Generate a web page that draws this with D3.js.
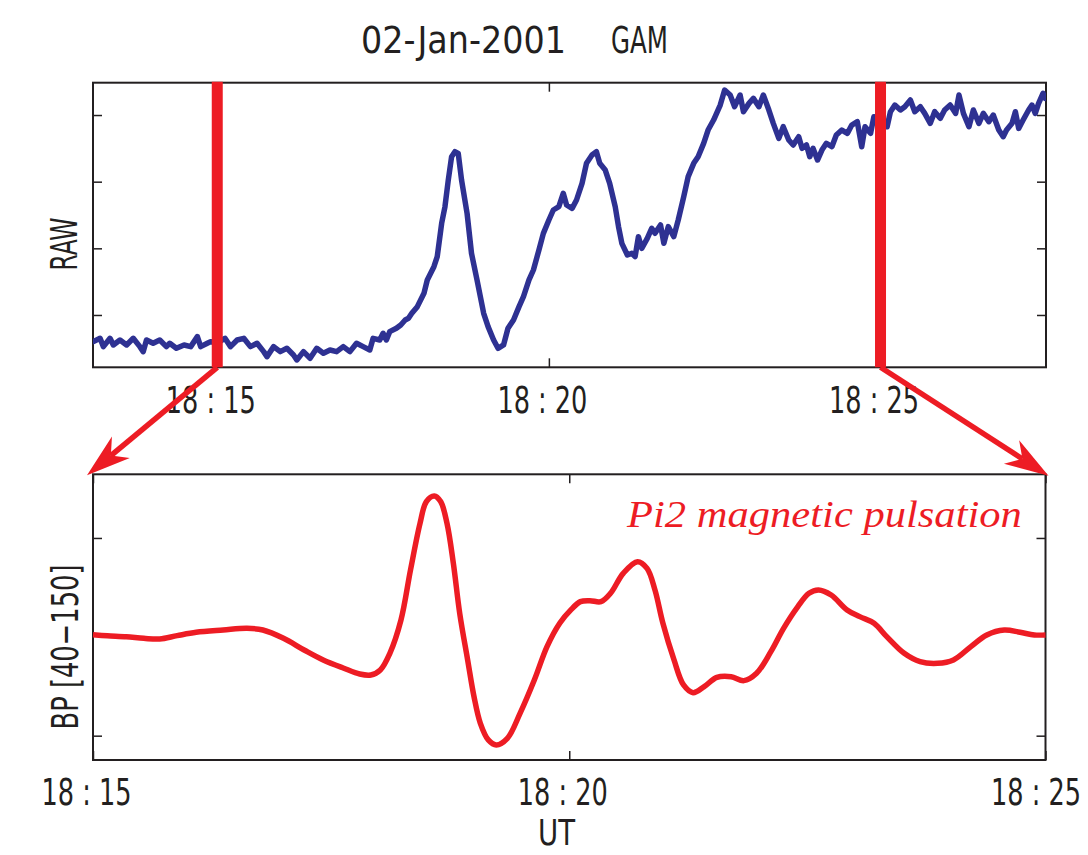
<!DOCTYPE html>
<html><head><meta charset="utf-8">
<script src="https://cdn.jsdelivr.net/npm/d3@7"></script>
<style>body{margin:0;background:#fff}svg{display:block}</style>
</head><body>
<svg id="c" width="1088" height="855"></svg>
<script>
// ---- data (time = seconds after 18:00 UT, 02-Jan-2001) ----
const rawTime = [788,794,797,803,806,812,818,824,830,833,836,842,848,854,857,863,870,876,882,885,891,894,900,907,912,918,924,930,936,942,945,951,957,963,969,972,978,984,990,996,1002,1008,1014,1020,1026,1032,1038,1041,1047,1050,1053,1056,1062,1066,1070,
1073,1076,1081,1087,1090,1096,1099,1103,1106,1109,1112,1115,1118,1121,1126,1130,1135,1141,1145,1150,1154,1159,1163,1168,1173,1177,1182,1186,1191,1195,1200,1204,1209,1213,1216,1221,1225,1230,1234,1239,1243,1246,1251,1255,1260,1263,1266,1271,1275,1278,1281,1284,1289,1293,1296,1301,1304,1308,1313,1317,1322,1326,1331,1335,1340,1344,1349,1353,
1355,1359,1364,1368,1373,1376,1381,1385,1390,1394,1399,1403,1408,1412,1417,1421,1426,1429,1433,1436,1439,1443,1447,1451,1456,1460,1465,1470,1474,1479,1483,1486,1491,1494,1500,1506,1509,1513,1518,1522,1527,1531,1536,1540,1545,1549,1554,1558,1563,1568,1571,1575,1580,1584,1589,1593,1598,1602,1607,1611,1614,1619,1622,1625,1629,1634,1637,1640,1643,1647,1649];
const rawValue = [6.0,6.5,5.25,6.5,5.5,6.25,5.5,6.5,5.25,4.5,6.25,5.75,6.25,5.25,5.75,5.0,5.5,5.25,6.75,5.25,5.75,6.0,5.75,6.5,5.25,6.25,6.5,5.25,5.75,4.5,3.75,5.25,4.5,5.0,4.0,3.25,4.5,3.5,5.0,4.25,4.75,4.5,5.25,4.5,5.75,5.25,4.75,6.5,6.25,7.25,6.25,7.5,8.0,8.5,9.25,
9.5,10.25,11.25,13.25,15.25,17.25,18.75,23.75,26.25,30.25,33.75,34.5,34.25,30.25,25.25,19.25,15.25,10.25,8.25,6.25,5.0,5.5,8.0,9.25,11.25,12.75,15.25,16.75,19.75,22.25,24.25,25.75,26.25,28.25,26.5,26.0,27.25,29.75,32.75,34.0,34.5,32.75,31.75,29.75,26.25,23.25,20.75,19.0,19.25,18.75,21.75,20.0,21.5,23.0,22.25,23.5,20.75,23.25,21.75,24.25,27.75,30.75,32.75,33.75,35.75,37.75,39.25,40.75,
41.5,43.75,43.0,41.25,43.0,40.5,41.75,42.5,41.25,43.0,40.75,38.75,36.5,38.25,36.25,35.5,36.75,35.0,35.5,33.75,35.0,33.25,34.75,35.75,35.25,37.0,37.75,37.25,38.5,39.0,35.25,38.25,37.25,39.75,39.25,38.25,40.5,41.5,40.75,41.25,42.25,40.5,41.25,40.25,38.75,40.5,39.5,40.75,41.5,40.25,43.0,40.25,38.25,40.75,38.75,40.25,39.0,40.0,37.75,36.75,37.75,38.75,40.5,38.0,39.25,40.75,41.5,40.25,41.75,43.25,42.5];

const bpTime = [900,909,921,932,942,953,965,982,997,1007,1020,1033,1045,1058,1068,1075,1081,1087,1094,1100,1106,1110,1115,1119,1123,1127,1131,1136,1140,1144,1149,1154,1161,1169,1178,1186,1194,1201,1207,1213,1220,1226,1234,1243,1249,1254,1259,1266,1272,1278,1285,1293,1302,1310,1318,1327,1335,1344,1351,1357,1365,1375,1383,1392,1400,1411,1421,1432,1442,1453,1463,1474,1484,1493,1500];
const bpValue = [0.02,0.01,0.0,-0.015,-0.022,0.012,0.046,0.069,0.086,0.069,-0.015,-0.133,-0.234,-0.318,-0.376,-0.386,-0.335,-0.167,0.17,0.676,1.148,1.368,1.425,1.368,1.148,0.744,0.238,-0.234,-0.605,-0.875,-1.043,-1.094,-1.027,-0.774,-0.437,-0.099,0.138,0.272,0.356,0.366,0.356,0.44,0.642,0.76,0.693,0.474,0.137,-0.234,-0.487,-0.565,-0.504,-0.41,-0.403,-0.443,-0.369,-0.15,0.086,0.306,0.44,0.474,0.423,0.272,0.204,0.137,0.002,-0.167,-0.251,-0.268,-0.234,-0.099,0.019,0.069,0.046,0.019,0.019];

const rawTimeDomain = [787.6, 1649.7];
const rawValueDomain = [2.15, 44.85];
const rawTimeTicks = [900, 1200, 1500];
const rawValueTicks = [10, 20, 30, 40];
const bpTimeDomain = [900, 1500];
const bpValueDomain = [-1.246, 1.644];
const bpTimeTicks = [900, 1200, 1500];
const bpValueTicks = [-1, 1];
const markerTimes = [900, 1500];
const titleDate = "02-Jan-2001";
const titleStation = "GAM";

// ---- drawing ----
const base = Date.UTC(2001, 0, 2, 18, 0, 0);
const toDate = s => new Date(base + s * 1000);
const fmt = d3.utcFormat("%H : %M");
const svg = d3.select("#c");
const INK = "#231f20", BLUE = "#2e3192", RED = "#ed1c24";
const FONT = "'Liberation Sans Narrow','Arial Narrow','DejaVu Sans Condensed','Roboto Condensed','Liberation Sans',sans-serif";
const FS = 37;

// horizontally scale a text so that its real width equals `width`
function fit(sel, width) {
  sel.each(function () {
    const w = this.getComputedTextLength();
    const s = width / w;
    const x = parseFloat(this.getAttribute("x") || 0);
    this.setAttribute("x", x / s);
    const dx = this.getAttribute("dx");
    if (dx !== null) this.setAttribute("dx", parseFloat(dx) / s);
    const tr = this.getAttribute("transform") || "";
    this.setAttribute("transform", (tr + ` scale(${s},1)`).trim());
  });
}

const P1 = {l: 93, r: 1046, t: 82.7, b: 367.3};
const P2 = {l: 93, r: 1045.5, t: 474.3, b: 760};

const x1 = d3.scaleUtc().domain(rawTimeDomain.map(toDate)).range([P1.l, P1.r]);
const y1 = d3.scaleLinear().domain(rawValueDomain).range([P1.b, P1.t]);
const x2 = d3.scaleUtc().domain(bpTimeDomain.map(toDate)).range([P2.l, P2.r]);
const y2 = d3.scaleLinear().domain(bpValueDomain).range([P2.b, P2.t]);

function frame(P, x, y, xt, yt, labelY, lastDx) {
  const g = svg.append("g");
  const bottom = g.append("g").attr("transform", `translate(0,${P.b})`)
    .call(d3.axisBottom(x).tickValues(xt.map(toDate)).tickSize(-9).tickFormat(fmt));
  const lbl = bottom.selectAll(".tick text").attr("y", labelY).attr("dy", 0)
    .attr("dx", (d, i, n) => i === n.length - 1 ? lastDx : -7)
    .attr("font-size", FS).attr("font-family", FONT).attr("fill", INK);
  fit(lbl, 90);
  g.append("g").attr("transform", `translate(0,${P.t})`)
    .call(d3.axisTop(x).tickValues(xt.map(toDate)).tickSize(-9).tickFormat(""));
  g.append("g").attr("transform", `translate(${P.l},0)`)
    .call(d3.axisLeft(y).tickValues(yt).tickSize(-9).tickFormat(""));
  g.append("g").attr("transform", `translate(${P.r},0)`)
    .call(d3.axisRight(y).tickValues(yt).tickSize(-9).tickFormat(""));
  g.selectAll(".domain").remove();
  g.selectAll(".tick line").attr("stroke", INK).attr("stroke-width", 1.5);
  g.append("rect").attr("x", P.l).attr("y", P.t).attr("width", P.r - P.l).attr("height", P.b - P.t)
    .attr("fill", "none").attr("stroke", INK).attr("stroke-width", 2);
  return g;
}

frame(P1, x1, y1, rawTimeTicks, rawValueTicks, 46, -7);
frame(P2, x2, y2, bpTimeTicks, bpValueTicks, 45, -10);

svg.append("clipPath").attr("id", "clip1").append("rect")
  .attr("x", P1.l).attr("y", P1.t).attr("width", P1.r - P1.l).attr("height", P1.b - P1.t);

// raw trace
const rawData = rawTime.map((t, i) => [toDate(t), rawValue[i]]);
svg.append("path").datum(rawData).attr("clip-path", "url(#clip1)")
  .attr("d", d3.line().x(d => x1(d[0])).y(d => y1(d[1])))
  .attr("fill", "none").attr("stroke", BLUE).attr("stroke-width", 5.5)
  .attr("stroke-linejoin", "round").attr("stroke-linecap", "round");

// band-pass trace
const bpData = bpTime.map((t, i) => [toDate(t), bpValue[i]]);
svg.append("path").datum(bpData)
  .attr("d", d3.line().curve(d3.curveCatmullRom.alpha(0.5)).x(d => x2(d[0])).y(d => y2(d[1])))
  .attr("fill", "none").attr("stroke", RED).attr("stroke-width", 5.5)
  .attr("stroke-linejoin", "round");

// marker lines
markerTimes.forEach(t => {
  svg.append("line").attr("x1", x1(toDate(t))).attr("x2", x1(toDate(t)))
    .attr("y1", P1.t - 1).attr("y2", P1.b)
    .attr("stroke", RED).attr("stroke-width", 11);
});

// arrows from marker lines to the corners of the lower panel
function arrow(x0, y0, xt, yt) {
  const dx = xt - x0, dy = yt - y0, L = Math.hypot(dx, dy);
  const ux = dx / L, uy = dy / L, nx = -uy, ny = ux;
  const len = 44, hw = 14, notch = 31;
  svg.append("line").attr("x1", x0).attr("y1", y0)
    .attr("x2", xt - ux * notch).attr("y2", yt - uy * notch)
    .attr("stroke", RED).attr("stroke-width", 5.5);
  const pts = [
    [xt, yt],
    [xt - ux * len + nx * hw, yt - uy * len + ny * hw],
    [xt - ux * notch, yt - uy * notch],
    [xt - ux * len - nx * hw, yt - uy * len - ny * hw]
  ];
  svg.append("path").attr("d", "M" + pts.map(p => p.join(",")).join("L") + "Z").attr("fill", RED);
}
arrow(x1(toDate(markerTimes[0])), P1.b, P2.l - 6, P2.t + 1);
arrow(x1(toDate(markerTimes[1])), P1.b, P2.r + 3, P2.t + 1.5);

// texts
const tDate = svg.append("text").attr("x", 361).attr("y", 53).text(titleDate)
  .attr("font-family", FONT).attr("font-size", FS).attr("fill", INK);
fit(tDate, 205);
const tSta = svg.append("text").attr("x", 611).attr("y", 53).text(titleStation)
  .attr("font-family", FONT).attr("font-size", FS).attr("fill", INK);
fit(tSta, 57);

const tRaw = svg.append("text").attr("transform", "translate(77,244) rotate(-90)")
  .attr("text-anchor", "middle").text("RAW")
  .attr("font-family", FONT).attr("font-size", FS).attr("fill", INK);
fit(tRaw, 53);
const tBp = svg.append("text").attr("transform", "translate(78,647) rotate(-90)")
  .attr("text-anchor", "middle").text("BP [40\u2212150]")
  .attr("font-family", FONT).attr("font-size", FS).attr("fill", INK);
fit(tBp, 165);
const tUt = svg.append("text").attr("x", 556.5).attr("y", 845).attr("text-anchor", "middle").text("UT")
  .attr("font-family", FONT).attr("font-size", 35).attr("fill", INK);
fit(tUt, 37);

const tPi = svg.append("text").attr("x", 627).attr("y", 527).text("Pi2 magnetic pulsation")
  .attr("font-family", "'Liberation Serif','Times New Roman',serif").attr("font-style", "italic")
  .attr("font-size", 37).attr("fill", RED);
fit(tPi, 395);
</script>
</body></html>
